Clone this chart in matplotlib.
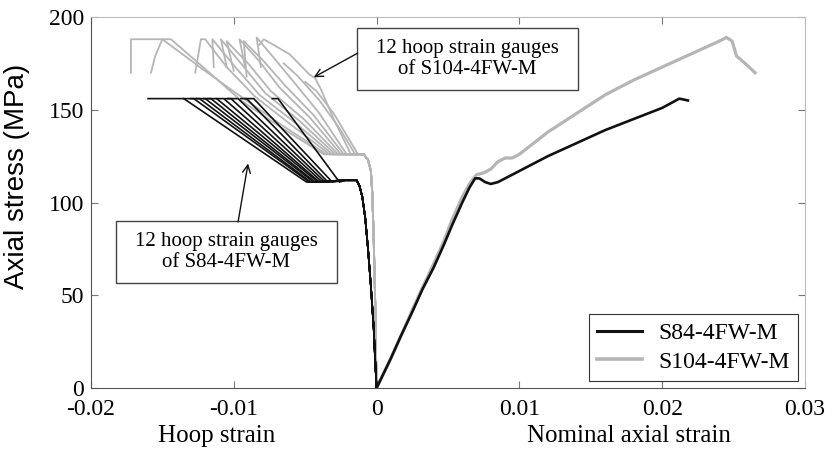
import numpy as np
import matplotlib
matplotlib.use("Agg")
import matplotlib.pyplot as plt
from matplotlib.patches import Rectangle
from matplotlib.lines import Line2D

# axial (right side)
s84_axial_x = [0, 0.0005, 0.001, 0.0017, 0.0025, 0.0032, 0.004, 0.0047, 0.0053, 0.006, 0.0065,
               0.0069, 0.0072, 0.0076, 0.008, 0.0085, 0.009, 0.010, 0.012, 0.014, 0.016, 0.018,
               0.020, 0.0212, 0.0218]
s84_axial_y = [0, 8, 16, 28, 41, 53, 65, 77, 88, 100, 108, 113, 113, 111, 110, 111, 113, 117, 125,
               132, 139, 145, 151, 156, 155]

s104_axial_x = [0, 0.0005, 0.001, 0.0017, 0.0025, 0.0032, 0.004, 0.0047, 0.0053, 0.006, 0.0065,
                0.007, 0.0075, 0.008, 0.0085, 0.009, 0.0095, 0.010, 0.011, 0.012, 0.014, 0.016,
                0.018, 0.020, 0.022, 0.024, 0.0245, 0.0249, 0.0252, 0.0258, 0.0265]
s104_axial_y = [0, 8, 16, 28, 42, 54, 67, 79, 91, 103, 110, 115, 116, 118, 122, 124, 124, 126,
                132, 138, 148, 158, 166, 173, 180, 187, 189, 187, 179, 175, 170]

# hoop (left side), common start of the 12 gauges
s84_hoop_base_x = [0, -0.0001, -0.0002, -0.0004, -0.0006, -0.0008, -0.0010, -0.0012, -0.0014, -0.0022]
s84_hoop_base_y = [0, 15, 32, 55, 75, 92, 103, 109, 112, 112]
# each gauge: leaves the plateau at 111 MPa, reaches 156 MPa, then runs flat
s84_hoop_bottom_x = [-0.0049, -0.0047, -0.0046, -0.0044, -0.0043, -0.0041, -0.0040, -0.0038,
                     -0.0036, -0.0034, -0.0031, -0.0026]
s84_hoop_top_x = [-0.0135, -0.0128, -0.0124, -0.0120, -0.0116, -0.0112, -0.0107, -0.0102,
                  -0.0097, -0.0091, -0.0086, -0.0069]
s84_hoop_end_x = [-0.0160, -0.0135, -0.0130, -0.0126, -0.0121, -0.0118, -0.0112, -0.0106,
                  -0.0104, -0.0095, -0.0092, -0.0073]

s104_hoop_base_x = [0, -0.0001, -0.0002, -0.0003, -0.0004, -0.0006, -0.0009, -0.0012]
s104_hoop_base_y = [0, 47, 80, 105, 117, 123, 126, 126]
s104_hoop_x = [
    [-0.0037, -0.0066, -0.0095, -0.0120, -0.0144, -0.0172, -0.0172],
    [-0.0035, -0.0065, -0.0093, -0.0122, -0.0150, -0.0155, -0.0158],
    [-0.0033, -0.0060, -0.0085, -0.0105, -0.0120, -0.0123, -0.0127],
    [-0.0031, -0.0057, -0.0082, -0.0100, -0.0115, -0.0114],
    [-0.0029, -0.0054, -0.0078, -0.0095, -0.0109, -0.0105],
    [-0.0027, -0.0051, -0.0074, -0.0090, -0.0105, -0.0100],
    [-0.0025, -0.0047, -0.0068, -0.0083, -0.0096, -0.0092],
    [-0.0023, -0.0044, -0.0064, -0.0080, -0.0093, -0.0091],
    [-0.0021, -0.0040, -0.0058, -0.0072, -0.0084, -0.0081],
    [-0.0018, -0.0030, -0.0039, -0.0043, -0.0047, -0.0061, -0.0079, -0.0082],
    [-0.0015, -0.0026, -0.0040, -0.0055, -0.0065],
    [-0.0013, -0.0020, -0.0030, -0.0042, -0.0050],
]
s104_hoop_y = [
    [126, 140, 155, 172, 188, 188, 170],
    [126, 141, 156, 172, 188, 179, 170],
    [126, 142, 157, 173, 188, 188, 170],
    [126, 143, 158, 174, 188, 173],
    [126, 144, 159, 175, 188, 173],
    [126, 145, 160, 175, 187, 171],
    [126, 146, 162, 177, 188, 173],
    [126, 147, 163, 177, 187, 168],
    [126, 148, 165, 178, 189, 173],
    [126, 145, 161, 167, 169, 180, 188, 185],
    [126, 140, 155, 168, 175],
    [126, 135, 148, 160, 165],
]

x_ticks = [-0.02, -0.01, 0, 0.01, 0.02, 0.03]
x_tick_labels = ["-0.02", "-0.01", "0", "0.01", "0.02", "0.03"]
y_ticks = [0, 50, 100, 150, 200]

serif = "Liberation Serif"
sans = "Liberation Sans"
black = "#111111"
grey = "#b5b5b5"

fig = plt.figure(figsize=(8.33, 4.58), dpi=100)
ax = fig.add_axes([0.1092, 0.1528, 0.8572, 0.8101])

# S104 first so the black curves sit on top
for gx, gy in zip(s104_hoop_x, s104_hoop_y):
    ax.plot(s104_hoop_base_x + gx, s104_hoop_base_y + gy, color=grey, lw=1.3)
ax.plot(s104_axial_x, s104_axial_y, color=grey, lw=2.3)

for xb, xt, xe in zip(s84_hoop_bottom_x, s84_hoop_top_x, s84_hoop_end_x):
    hx = s84_hoop_base_x + [xb, xt, xe]
    hy = s84_hoop_base_y + [111, 156, 156]
    ax.plot(hx, hy, color=black, lw=1.2)
ax.plot(s84_axial_x, s84_axial_y, color=black, lw=1.9)

ax.set_xlim(-0.02, 0.03)
ax.set_ylim(0, 200)
ax.set_xticks(x_ticks)
ax.set_xticklabels(x_tick_labels)
ax.set_yticks(y_ticks)
ax.tick_params(direction="in", length=5, width=0.8, color="#777777",
               top=True, right=True, labelsize=17)
ax.tick_params(axis="x", pad=8)
ax.tick_params(axis="y", pad=5)
for lab in ax.get_xticklabels() + ax.get_yticklabels():
    lab.set_fontfamily(serif)
for side in ["left", "bottom"]:
    ax.spines[side].set_color("#555555")
for side in ["top", "right"]:
    ax.spines[side].set_color("#bbbbbb")

ax.set_ylabel("Axial stress (MPa)", fontfamily=sans, fontsize=20)
ax.yaxis.set_label_coords(-0.086, 0.57)
ax.text(0.1765, -0.13, "Hoop strain", transform=ax.transAxes, ha="center", va="center",
        fontfamily=serif, fontsize=18)
ax.text(0.7535, -0.13, "Nominal axial strain", transform=ax.transAxes, ha="center",
        va="center", fontfamily=serif, fontsize=18)

# annotation boxes
boxes = [
    ((0.3725, 0.803), "12 hoop strain gauges\nof S104-4FW-M", (-0.00133, 180.5), (-0.0044, 167.5)),
    ((0.035, 0.283), "12 hoop strain gauges\nof S84-4FW-M", (-0.0097, 89.5), (-0.0090, 121)),
]
for (bx, by), txt, start, tip in boxes:
    ax.add_patch(Rectangle((bx, by), 0.3095, 0.166, transform=ax.transAxes, facecolor="white",
                           edgecolor="#444444", lw=1.0, zorder=4))
    ax.text(bx + 0.3095 / 2, by + 0.166 / 2, txt, transform=ax.transAxes, ha="center",
            va="center", fontfamily=serif, fontsize=15, linespacing=1.15, zorder=5)
    ax.annotate("", xy=tip, xytext=start,
                arrowprops=dict(arrowstyle="->", color=black, lw=1.0,
                                shrinkA=0, shrinkB=0, mutation_scale=14), zorder=5)

handles = [Line2D([], [], color=black, lw=2.2), Line2D([], [], color=grey, lw=2.6)]
leg = ax.legend(handles, ["S84-4FW-M", "S104-4FW-M"], loc="lower right",
                bbox_to_anchor=(0.99, 0.019), borderaxespad=0, fancybox=False,
                edgecolor="#333333", framealpha=1, handlelength=1.9, handletextpad=0.7,
                borderpad=0.35, labelspacing=0.3, prop={"family": serif, "size": 17})
leg.get_frame().set_linewidth(0.8)

fig.savefig("out.png", dpi=100)
